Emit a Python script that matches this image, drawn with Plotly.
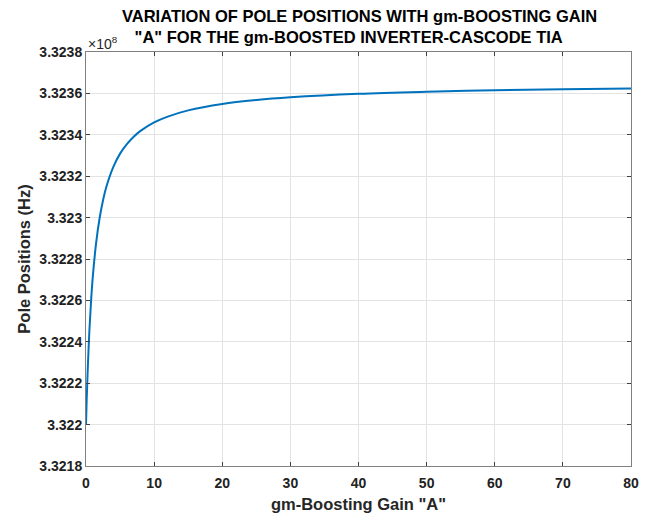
import plotly.graph_objects as go

# gm-boosting gain "A"
gain_A = [0, 0.1, 0.25, 0.5, 0.75, 1, 1.5, 2, 2.5, 3, 4, 5, 6, 7, 8, 10, 12, 15,
          20, 25, 30, 40, 50, 60, 70, 80]
# pole positions in units of 1e8 Hz
pole_e8 = [3.322000, 3.322120, 3.322263, 3.322456, 3.322601, 3.322715, 3.322882,
           3.322998, 3.323084, 3.323150, 3.323244, 3.323309, 3.323355, 3.323391,
           3.323419, 3.323460, 3.323488, 3.323518, 3.323549, 3.323568, 3.323581,
           3.323598, 3.323608, 3.323615, 3.323620, 3.323624]

y_ticks = [3.3218, 3.322, 3.3222, 3.3224, 3.3226, 3.3228, 3.323, 3.3232, 3.3234, 3.3236, 3.3238]
y_ticktext = ["3.3218", "3.322", "3.3222", "3.3224", "3.3226", "3.3228", "3.323",
              "3.3232", "3.3234", "3.3236", "3.3238"]
x_ticks = [0, 10, 20, 30, 40, 50, 60, 70, 80]
x_ticktext = ["0", "10", "20", "30", "40", "50", "60", "70", "80"]

title_line1 = "VARIATION OF POLE POSITIONS WITH gm-BOOSTING GAIN"
title_line2 = " \"A\" FOR THE gm-BOOSTED INVERTER-CASCODE TIA"

fig = go.Figure()
fig.add_trace(go.Scatter(x=gain_A, y=pole_e8, mode="lines", line_shape="spline",
                         line=dict(color="#0072BD", width=2), showlegend=False))

font_fam = "Liberation Sans, Arial, sans-serif"
tick_font = dict(family=font_fam, size=14, color="#222222", weight=700)
axis_common = dict(showgrid=True, gridcolor="#e3e3e3", gridwidth=1,
                   showline=True, linecolor="#808080", linewidth=1, mirror="ticks",
                   ticks="inside", ticklen=4, tickcolor="#404040", zeroline=False,
                   tickfont=tick_font, automargin=False)

fig.update_layout(
    width=653, height=519,
    margin=dict(l=86, r=22, t=52, b=53),
    paper_bgcolor="white", plot_bgcolor="white",
    font=dict(family=font_fam, color="#262626"),
    xaxis=dict(range=[0, 80], tickvals=x_ticks,
               ticktext=["<b>" + t + "</b>" for t in x_ticktext],
               ticklabelstandoff=4,
               title=dict(text="<b>gm-Boosting Gain \"A\"</b>", standoff=8,
                          font=dict(family=font_fam, size=16.5, color="#262626")),
               **axis_common),
    yaxis=dict(range=[3.3218, 3.3238], tickvals=y_ticks,
               ticktext=["<b>" + t + "</b>" for t in y_ticktext],
               title=dict(text="<b>Pole Positions (Hz)</b>", standoff=4,
                          font=dict(family=font_fam, size=16.5, color="#262626")),
               **axis_common),
)

# two-line title placed as annotations (pixel-aligned with the reference)
fig.add_annotation(text="<b>" + title_line1 + "</b>", xref="paper", yref="paper",
                   x=0.502, y=1.0867, xanchor="center", yanchor="middle", showarrow=False,
                   font=dict(family=font_fam, size=16.5, color="black"))
fig.add_annotation(text="<b>" + title_line2 + "</b>", xref="paper", yref="paper",
                   x=0.478, y=1.0361, xanchor="center", yanchor="middle", showarrow=False,
                   font=dict(family=font_fam, size=16.5, color="black"))

fig.add_annotation(text="×10<sup>8</sup>", xref="paper", yref="paper", x=0, y=1,
                   xanchor="left", yanchor="bottom", showarrow=False, yshift=-2,
                   font=dict(family=font_fam, size=14, color="#262626"))

fig.write_html("out.html")
